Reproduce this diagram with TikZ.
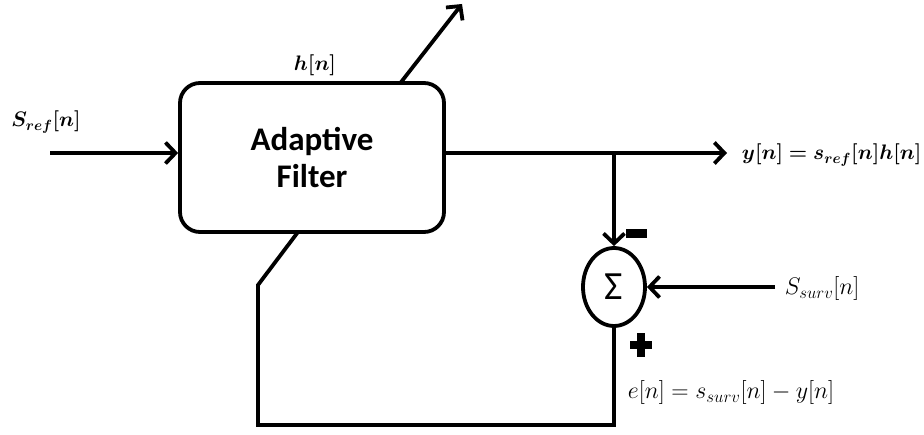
\RequirePackage{fix-cm}
\documentclass[tikz,border=0pt]{standalone}
\usepackage{amsmath,bm}
\usepackage{fontspec}
\setmainfont{Carlito}
\usetikzlibrary{arrows.meta,shapes.geometric}
\begin{document}
\begin{tikzpicture}[x=1pt,y=-1pt,line width=3.8pt,
  conn/.style={-{Straight Barb[length=10pt,width=21pt,line width=3.8pt]}},
  lblb/.style={inner sep=0pt,font=\fontsize{21}{24}\selectfont},
  lblr/.style={inner sep=0pt,font=\fontsize{24}{28}\selectfont},
  filterbox/.style={draw,rounded corners=20pt,minimum width=264pt,minimum height=149pt,
    align=center,font=\fontsize{33}{37}\selectfont\bfseries},
  sumnode/.style={draw,ellipse,minimum width=62pt,minimum height=78pt,inner sep=0pt,
    font=\fontsize{40}{42}\selectfont},
  signmark/.style={fill=black,draw=none}]
\useasboundingbox (0,0) rectangle (924,435);
\node[filterbox] (af) at (312,157.5) {Adaptive\\Filter};
\node[sumnode] (sum) at (614,287) {Σ};
\coordinate (in) at (50,153);
\coordinate (hout) at (462,4);
\coordinate (hstart) at (400,83.5);
\coordinate (yend) at (727,153);
\coordinate (branch) at (614,153);
\coordinate (sin) at (775,287);
\coordinate (fb1) at (614,425);
\coordinate (fb2) at (258,425);
\coordinate (fb3) at (258,285);
\coordinate (fb4) at (298,232);
\node[lblb] (lref) at (46,122) {$\bm{S_{ref}[n]}$};
\node[lblb] (lh) at (315,65) {$\bm{h[n]}$};
\node[lblb,anchor=west] (ly) at (740,155) {$\bm{y[n]=s_{ref}[n]h[n]}$};
\node[lblr,anchor=west] (ls) at (783,289) {$S_{surv}[n]$};
\node[lblr,anchor=west] (le) at (626,393) {$e[n]=s_{surv}[n]-y[n]$};
\draw[conn] (in) -- (af.west |- in);
\draw[conn] (hstart) -- (hout);
\draw[conn] (af.east |- yend) -- (yend);
\draw[conn] (branch) -- (sum.north);
\draw[conn] (sin) -- (sum.east);
\draw (sum.south) -- (fb1) -- (fb2) -- (fb3) -- (fb4);
\fill[signmark] (626,229) rectangle (647,238);
\fill[signmark] (630,341) rectangle (652,349);
\fill[signmark] (637,333) rectangle (645,357);
\end{tikzpicture}
\end{document}
